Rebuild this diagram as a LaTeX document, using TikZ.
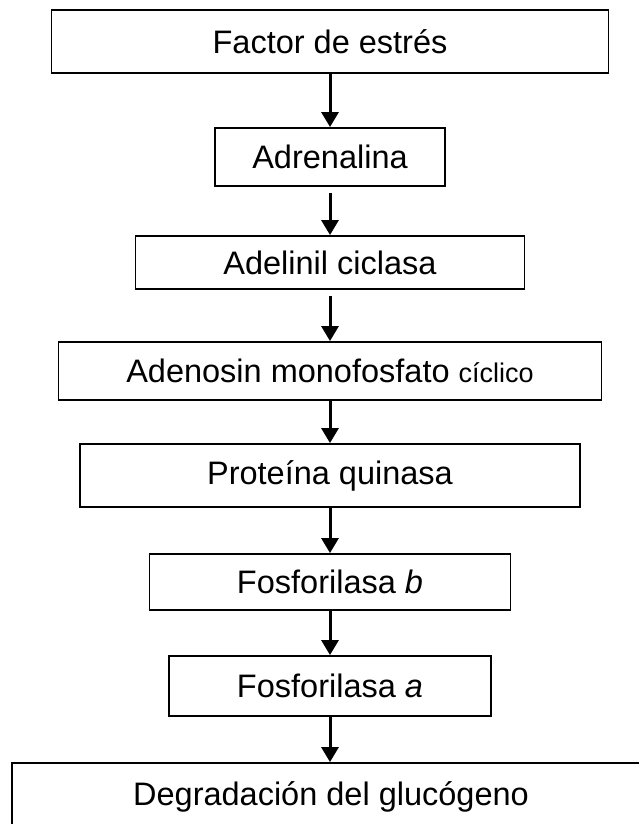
\documentclass[tikz,border=0pt]{standalone}
\usepackage{fontspec}
\setmainfont{Liberation Sans}
\usetikzlibrary{arrows.meta}
\def\small#1{{\fontsize{27}{32}\selectfont #1}}

\begin{document}
\begin{tikzpicture}[x=1pt, y=1pt,
		caja/.style={draw, line width=1.9pt, inner sep=0pt, font=\fontsize{32.5}{38}\selectfont},
		flecha/.style={line width=3pt, -{Triangle[width=17pt,length=15pt]}}]
			%%%%% START %%%%%
			
			\useasboundingbox (0, 0) rectangle (639, -824);
			
			\node[caja, minimum width=557, minimum height=63] (estres) at (330, -41.5) {Factor de estrés};
			\node[caja, minimum width=230, minimum height=58] (adrenalina) at (330, -157) {Adrenalina};
			\node[caja, minimum width=389, minimum height=53] (ciclasa) at (330, -262.5) {Adelinil ciclasa};
			\node[caja, minimum width=543, minimum height=58] (ampc) at (330, -371) {Adenosin monofosfato \small{cíclico}};
			\node[caja, minimum width=500, minimum height=63] (quinasa) at (330, -475.5) {Proteína quinasa};
			\node[caja, minimum width=361, minimum height=56] (fosfb) at (330, -582) {Fosforilasa \textit{b}};
			\node[caja, minimum width=322, minimum height=60] (fosfa) at (330, -686) {Fosforilasa \textit{a}};
			\node[caja, minimum width=638, minimum height=84, text depth=22pt] (glucogeno) at (331, -805) {Degradación del glucógeno};
			
			\draw[flecha] (estres) -- (adrenalina);
			\draw[flecha, shorten <=6pt] (adrenalina) -- (ciclasa);
			\draw[flecha, shorten <=6pt] (ciclasa) -- (ampc);
			\draw[flecha] (ampc) -- (quinasa);
			\draw[flecha] (quinasa) -- (fosfb);
			\draw[flecha] (fosfb) -- (fosfa);
			\draw[flecha] (fosfa) -- (glucogeno.north -| fosfa.south);
			
			%%%%% END %%%%%
		\end{tikzpicture}
\end{document}
